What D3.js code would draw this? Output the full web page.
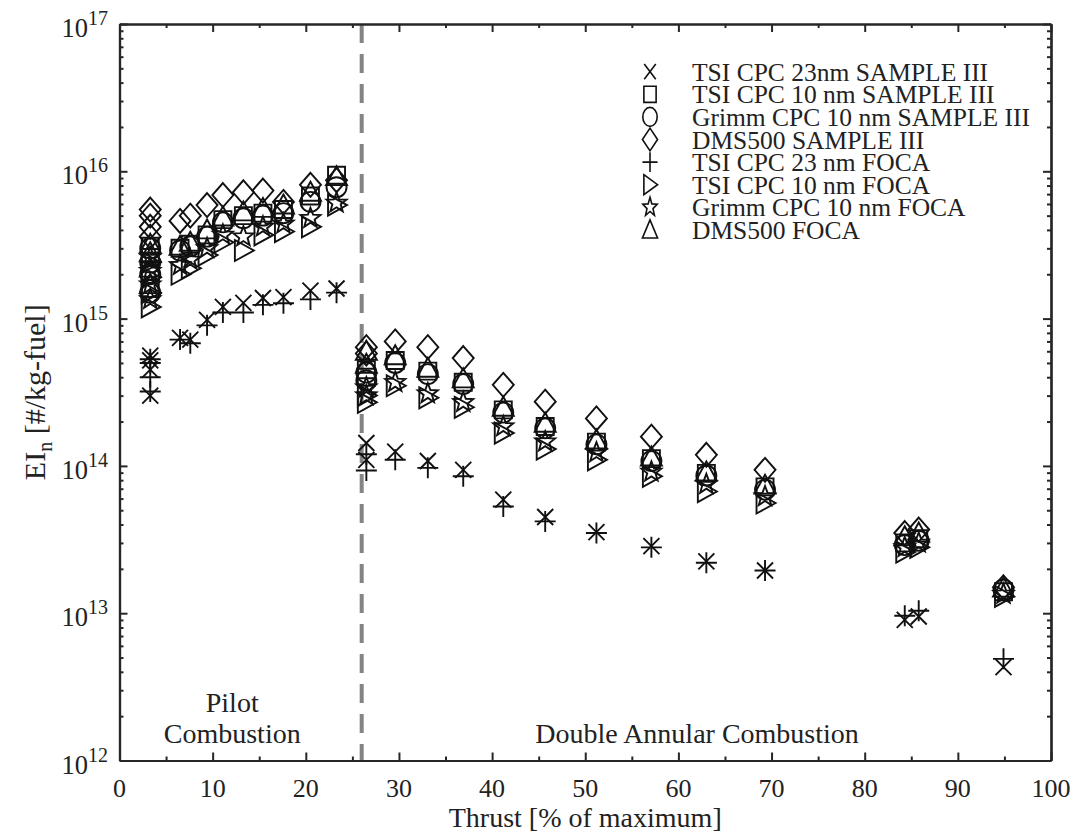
<!DOCTYPE html>
<html>
<head>
<meta charset="utf-8">
<script src="https://cdn.jsdelivr.net/npm/d3@7"></script>
<style>
  html, body { margin: 0; padding: 0; background: #fff; }
  svg { display: block; }
  text { font-family: "Liberation Serif", "Times New Roman", serif; fill: #222; }
</style>
</head>
<body>
<div id="chart"></div>
<script>
// thrust settings [% of max]; idle point repeated several times
var thrust = [3.3, 3.3, 3.3, 3.3, 6.5, 7.6, 9.4, 11.1, 13.3, 15.4, 17.6, 20.5, 23.3,
              26.5, 26.5, 29.6, 33.1, 36.9, 41.2, 45.7, 51.2, 57.1, 63.0, 69.3, 84.3, 85.8, 94.9];

var tsi23S3 = [5.6e14, 5.2e14, 4.5e14, 3.0e14, 7.4e14, 7.2e14, 9.8e14, 1.2e15, 1.28e15, 1.38e15, 1.4e15, 1.55e15, 1.6e15,
               1.43e14, 1.1e14, 1.25e14, 1.08e14, 9.4e13, 5.9e13, 4.5e13, 3.55e13, 2.85e13, 2.25e13, 1.95e13, 9.0e12, 9.5e12, 4.3e12];
var tsi10S3 = [3.1e15, 2.6e15, 2.1e15, 1.6e15, 3.0e15, 3.2e15, 3.7e15, 4.7e15, 5.0e15, 5.2e15, 5.5e15, 6.8e15, 9.4e15,
               4.5e14, 4.0e14, 5.2e14, 4.4e14, 3.7e14, 2.4e14, 1.85e14, 1.45e14, 1.12e14, 8.9e13, 7.2e13, 3.0e13, 3.2e13, 1.4e13];
var grimmS3 = [3.0e15, 2.4e15, 2.0e15, 1.5e15, 2.9e15, 3.1e15, 3.6e15, 4.5e15, 4.8e15, 5.0e15, 5.2e15, 6.2e15, 7.8e15,
               4.3e14, 3.8e14, 5.0e14, 4.2e14, 3.6e14, 2.3e14, 1.8e14, 1.4e14, 1.08e14, 8.6e13, 6.9e13, 2.9e13, 3.1e13, 1.45e13];
var dmsS3   = [5.5e15, 5.0e15, 4.2e15, 3.6e15, 4.6e15, 5.0e15, 5.9e15, 6.9e15, 7.2e15, 7.4e15, 6.2e15, 8.1e15, 8.7e15,
               6.4e14, 5.8e14, 7.0e14, 6.4e14, 5.4e14, 3.55e14, 2.73e14, 2.1e14, 1.58e14, 1.19e14, 9.4e13, 3.5e13, 3.7e13, 1.5e13];
var tsi23F  = [5.3e14, 5.0e14, 4.0e14, 3.2e14, 7.2e14, 6.8e14, 9.0e14, 1.1e15, 1.1e15, 1.24e15, 1.27e15, 1.35e15, 1.5e15,
               1.2e14, 9.3e13, 1.1e14, 9.7e13, 8.5e13, 5.3e13, 4.2e13, 3.5e13, 2.8e13, 2.2e13, 1.95e13, 9.6e12, 1.04e13, 4.9e12];
var tsi10F  = [2.4e15, 1.9e15, 1.5e15, 1.2e15, 2.0e15, 2.2e15, 2.7e15, 3.3e15, 2.9e15, 3.7e15, 3.9e15, 4.2e15, 5.9e15,
               3.0e14, 2.7e14, 3.5e14, 2.9e14, 2.5e14, 1.67e14, 1.3e14, 1.1e14, 8.5e13, 6.7e13, 5.6e13, 2.6e13, 2.8e13, 1.3e13];
var grimmF  = [2.6e15, 2.1e15, 1.7e15, 1.35e15, 2.3e15, 2.5e15, 3.0e15, 3.7e15, 3.6e15, 4.2e15, 4.4e15, 4.8e15, 6.1e15,
               3.4e14, 3.0e14, 3.7e14, 3.1e14, 2.7e14, 1.85e14, 1.46e14, 1.23e14, 9.1e13, 7.5e13, 6.2e13, 2.8e13, 3.0e13, 1.35e13];
var dmsF    = [3.2e15, 2.8e15, 2.2e15, 1.7e15, 3.1e15, 3.3e15, 4.0e15, 4.9e15, 5.3e15, 5.6e15, 5.9e15, 7.2e15, 9.2e15,
               6.0e14, 4.9e14, 5.6e14, 4.6e14, 3.9e14, 2.5e14, 1.95e14, 1.5e14, 1.15e14, 9.1e13, 7.4e13, 3.3e13, 3.5e13, 1.48e13];

var seriesNames = ["TSI CPC 23nm SAMPLE III", "TSI CPC 10 nm SAMPLE III", "Grimm CPC 10 nm SAMPLE III",
                   "DMS500 SAMPLE III", "TSI CPC 23 nm FOCA", "TSI CPC 10 nm FOCA",
                   "Grimm CPC 10 nm FOCA", "DMS500 FOCA"];
var seriesValues = [tsi23S3, tsi10S3, grimmS3, dmsS3, tsi23F, tsi10F, grimmF, dmsF];
var seriesMarkers = ["x", "square", "circle", "diamond", "plus", "triright", "star", "triup"];

var xTicks = [0, 10, 20, 30, 40, 50, 60, 70, 80, 90, 100];
var yExponents = [12, 13, 14, 15, 16, 17];
var splitThrust = 26;

(function () {
  var W = 1076, H = 836;
  var x = d3.scaleLinear().domain([0, 100]).range([119.5, 1051]);
  var y = d3.scaleLog().domain([1e12, 1e17]).range([760.5, 24]);

  var svg = d3.select("#chart").append("svg")
    .attr("width", W).attr("height", H);

  function starPath(ro, ri) {
    var p = [];
    for (var i = 0; i < 10; i++) {
      var r = i % 2 ? ri : ro;
      var a = -Math.PI / 2 + i * Math.PI / 5;
      p.push((r * Math.cos(a)).toFixed(2) + "," + (r * Math.sin(a)).toFixed(2));
    }
    return "M" + p.join("L") + "Z";
  }

  var markerPath = {
    x:       "M-8,-8L8,8M-8,8L8,-8",
    square:  "M-8.5,-8.5H8.5V8.5H-8.5Z",
    circle:  "M10,0A10,10 0 1,1 -10,0A10,10 0 1,1 10,0Z",
    diamond: "M0,-12L10.5,0L0,12L-10.5,0Z",
    plus:    "M-10.5,0H10.5M0,-10.5V10.5",
    triright:"M-8.5,-10.5L10.5,0L-8.5,10.5Z",
    star:    starPath(10.5, 4.4),
    triup:   "M0,-10.5L10.5,8.5H-10.5Z"
  };

  function label(g, px, py, str, size, anchor) {
    return g.append("text")
      .attr("x", px).attr("y", py)
      .attr("font-size", size + "px")
      .attr("text-anchor", anchor || "middle")
      .text(str);
  }

  // dashed regime separator
  svg.append("line")
    .attr("x1", x(splitThrust)).attr("x2", x(splitThrust))
    .attr("y1", y(1e17)).attr("y2", y(1e12))
    .attr("stroke", "#848484")
    .attr("stroke-width", 4)
    .attr("stroke-dasharray", "19,11");

  // data markers
  var points = svg.append("g");
  seriesValues.forEach(function (vals, si) {
    points.append("g")
      .selectAll("path")
      .data(vals.map(function (v, i) { return { t: thrust[i], v: v }; }))
      .enter().append("path")
      .attr("d", markerPath[seriesMarkers[si]])
      .attr("transform", function (d) { return "translate(" + x(d.t) + "," + y(d.v) + ")"; })
      .attr("fill", "none")
      .attr("stroke", "#111")
      .attr("stroke-width", 1.9);
  });

  // axes (box, inward ticks)
  var axisColor = "#262626";
  var minorX = d3.range(5, 100, 10);
  var minorY = [];
  yExponents.slice(0, -1).forEach(function (e) {
    for (var k = 2; k < 10; k++) minorY.push(k * Math.pow(10, e));
  });
  var majorY = yExponents.map(function (e) { return Math.pow(10, e); });

  function styleAxis(g) {
    g.select(".domain").attr("stroke", axisColor).attr("stroke-width", 2.2);
    g.selectAll(".tick line").attr("stroke", axisColor).attr("stroke-width", 2);
  }

  svg.append("g").attr("transform", "translate(0," + y(1e12) + ")")
    .call(d3.axisBottom(x).tickValues(xTicks).tickSize(-8).tickSizeOuter(0).tickFormat(""))
    .call(styleAxis);
  svg.append("g").attr("transform", "translate(0," + y(1e12) + ")")
    .call(d3.axisBottom(x).tickValues(minorX).tickSize(-4).tickSizeOuter(0).tickFormat(""))
    .call(styleAxis);
  svg.append("g").attr("transform", "translate(0," + y(1e17) + ")")
    .call(d3.axisTop(x).tickValues(xTicks).tickSize(-8).tickSizeOuter(0).tickFormat(""))
    .call(styleAxis);
  svg.append("g").attr("transform", "translate(0," + y(1e17) + ")")
    .call(d3.axisTop(x).tickValues(minorX).tickSize(-4).tickSizeOuter(0).tickFormat(""))
    .call(styleAxis);

  svg.append("g").attr("transform", "translate(" + x(0) + ",0)")
    .call(d3.axisLeft(y).tickValues(majorY).tickSize(-8).tickSizeOuter(0).tickFormat(""))
    .call(styleAxis);
  svg.append("g").attr("transform", "translate(" + x(0) + ",0)")
    .call(d3.axisLeft(y).tickValues(minorY).tickSize(-4).tickSizeOuter(0).tickFormat(""))
    .call(styleAxis);
  svg.append("g").attr("transform", "translate(" + x(100) + ",0)")
    .call(d3.axisRight(y).tickValues(majorY).tickSize(-8).tickSizeOuter(0).tickFormat(""))
    .call(styleAxis);
  svg.append("g").attr("transform", "translate(" + x(100) + ",0)")
    .call(d3.axisRight(y).tickValues(minorY).tickSize(-4).tickSizeOuter(0).tickFormat(""))
    .call(styleAxis);

  // tick labels
  var labels = svg.append("g");
  xTicks.forEach(function (t) {
    label(labels, x(t), 797, String(t), 26);
  });
  yExponents.forEach(function (e) {
    var tx = labels.append("text")
      .attr("x", 108)
      .attr("y", y(Math.pow(10, e)) + 13)
      .attr("font-size", "26.5px")
      .attr("text-anchor", "end");
    tx.append("tspan").text("10");
    tx.append("tspan").attr("font-size", "20px").attr("dy", -12).text(String(e));
  });

  // axis titles
  label(svg, x(50), 827, "Thrust [% of maximum]", 28);
  var yl = svg.append("text")
    .attr("transform", "translate(45," + ((y(1e12) + y(1e17)) / 2) + ") rotate(-90)")
    .attr("font-size", "30px")
    .attr("text-anchor", "middle");
  yl.append("tspan").text("EI");
  yl.append("tspan").attr("font-size", "20px").attr("dy", 7).text("n");
  yl.append("tspan").attr("dy", -7).text(" [#/kg-fuel]");

  // regime annotations
  label(svg, x(12.1), 712, "Pilot", 28);
  label(svg, x(12.1), 743, "Combustion", 28);
  label(svg, x(62), 743, "Double Annular Combustion", 28);

  // legend
  var legend = svg.append("g");
  seriesNames.forEach(function (name, i) {
    var ly = 71.7 + i * 22.6;
    legend.append("path")
      .attr("d", markerPath[seriesMarkers[i]])
      .attr("transform", "translate(650," + ly + ") scale(0.72,0.95)")
      .attr("fill", "none")
      .attr("stroke", "#111")
      .attr("stroke-width", 1.6)
      .attr("vector-effect", "non-scaling-stroke");
    label(legend, 692, ly + 9, name, 25.5, "start");
  });
})();
</script>
</body>
</html>
